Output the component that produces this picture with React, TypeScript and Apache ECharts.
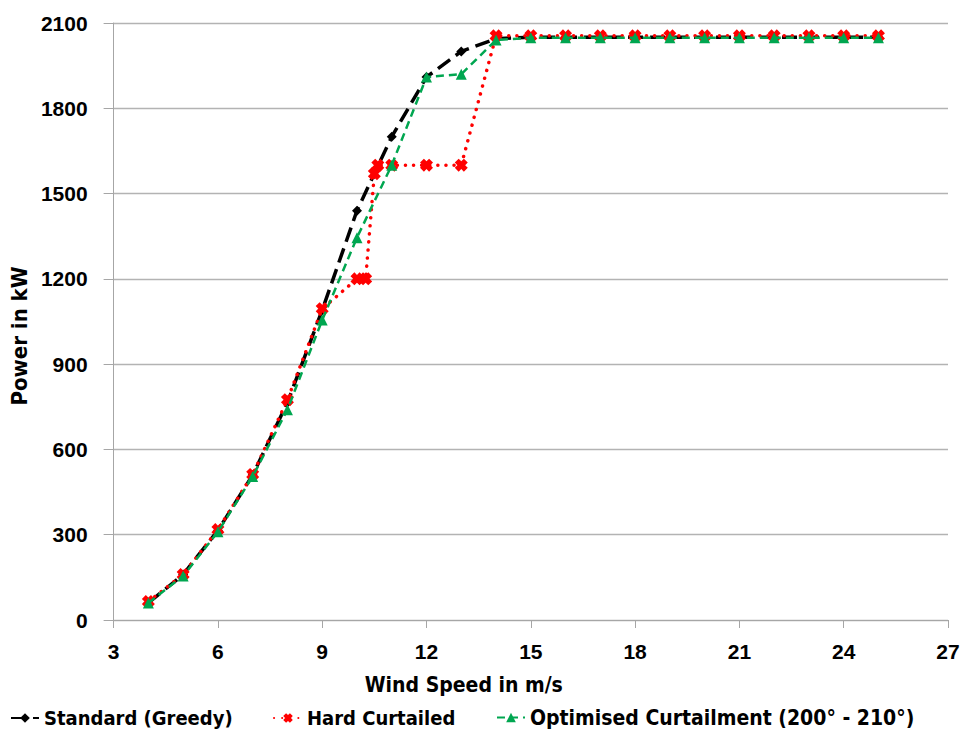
import React, { useEffect, useRef } from "react";
import * as echarts from "echarts";

const stdX = [4, 5, 6, 7, 8, 9, 10, 11, 12, 13, 14, 15, 16, 17, 18, 19, 20, 21, 22, 23, 24, 25];
const stdY = [60, 160, 315, 510, 765, 1090, 1440, 1700, 1910, 2000, 2045, 2050, 2050, 2050, 2050, 2050, 2050, 2050, 2050, 2050, 2050, 2050];

const hardX = [4, 5, 6, 7, 8, 9, 10, 10.25, 10.5, 10.6, 11, 12, 13, 14, 15, 16, 17, 18, 19, 20, 21, 22, 23, 24, 25];
const hardY = [65, 160, 318, 512, 775, 1095, 1200, 1200, 1570, 1600, 1600, 1600, 1600, 2055, 2055, 2055, 2055, 2055, 2055, 2055, 2055, 2055, 2055, 2055, 2055];

const optX = [4, 5, 6, 7, 8, 9, 10, 11, 12, 13, 14, 15, 16, 17, 18, 19, 20, 21, 22, 23, 24, 25];
const optY = [60, 155, 310, 505, 740, 1055, 1345, 1600, 1910, 1920, 2040, 2048, 2048, 2048, 2048, 2048, 2048, 2048, 2048, 2048, 2048, 2048];

const seriesNames = ["Standard (Greedy)", "Hard Curtailed", "Optimised Curtailment (200° - 210°)"];
const xTicks = { min: 3, max: 27, interval: 3 };
const yTicks = { min: 0, max: 2100, interval: 300 };

const crossPath =
  "path://M0,3 L3,0 L5,2 L7,0 L10,3 L8,5 L10,7 L7,10 L5,8 L3,10 L0,7 L2,5 Z";

const pairs = (xs: number[], ys: number[]) => xs.map((x, i) => [x, ys[i]]);

export default function App() {
  const ref = useRef<HTMLDivElement>(null);
  useEffect(() => {
    if (!ref.current) return;
    const chart = echarts.init(ref.current, null, { renderer: "svg" });
    const labelFont = "'Liberation Sans', Arial, sans-serif";
    const titleFont = "'DejaVu Sans Condensed', 'Liberation Sans', sans-serif";
    const legendText = {
      color: "#000",
      fontSize: 20,
      fontFamily: titleFont,
      fontWeight: "bold" as const,
    };
    const legendCommon = {
      top: 708,
      padding: 0,
      itemWidth: 28,
      itemHeight: 12,
      textStyle: legendText,
    };
    chart.setOption({
      animation: false,
      backgroundColor: "#fff",
      grid: { left: 111, right: 17, top: 23, bottom: 111, containLabel: false },
      xAxis: {
        type: "value",
        min: xTicks.min,
        max: xTicks.max,
        interval: xTicks.interval,
        name: "Wind Speed in m/s",
        nameLocation: "middle",
        nameGap: 54,
        nameTextStyle: {
          color: "#000",
          fontSize: 21,
          fontWeight: "bold",
          fontFamily: titleFont,
          padding: [0, 134, 0, 0],
        },
        axisLine: { show: true, lineStyle: { color: "#a6a6a6", width: 1 } },
        axisTick: { show: true, length: 8, lineStyle: { color: "#a6a6a6" } },
        axisLabel: { color: "#000", fontSize: 21, fontWeight: "bold", fontFamily: labelFont, margin: 21 },
        splitLine: { show: false },
      },
      yAxis: {
        type: "value",
        min: yTicks.min,
        max: yTicks.max,
        interval: yTicks.interval,
        name: "Power in kW",
        nameLocation: "middle",
        nameGap: 82,
        nameTextStyle: {
          color: "#000",
          fontSize: 22,
          fontWeight: "bold",
          fontFamily: titleFont,
          padding: [0, 29, 0, 0],
        },
        axisLine: { show: true, lineStyle: { color: "#a6a6a6", width: 1 } },
        axisTick: { show: true, length: 10, lineStyle: { color: "#a6a6a6" } },
        axisLabel: {
          color: "#000",
          fontSize: 21,
          fontWeight: "bold",
          fontFamily: labelFont,
          margin: 26,
          formatter: (v: number) => String(v),
        },
        splitLine: { show: true, lineStyle: { color: "#b3b3b3", width: 1.3 } },
      },
      legend: [
        { ...legendCommon, data: [seriesNames[0]], left: 10 },
        { ...legendCommon, data: [seriesNames[1]], left: 273 },
        {
          ...legendCommon,
          top: 707,
          data: [seriesNames[2]],
          left: 496,
          textStyle: { ...legendText, fontSize: 21 },
        },
      ],
      series: [
        {
          name: seriesNames[0],
          type: "line",
          data: pairs(stdX, stdY),
          symbol: "diamond",
          symbolSize: 10,
          itemStyle: { color: "#000" },
          lineStyle: { color: "#000", width: 3.5, type: [15, 7] },
          z: 2,
        },
        {
          name: seriesNames[1],
          type: "line",
          data: pairs(hardX, hardY),
          symbol: crossPath,
          symbolSize: 13,
          itemStyle: { color: "#ff0000" },
          lineStyle: { color: "#ff0000", width: 3.5, type: [0.1, 8], cap: "round" },
          z: 3,
        },
        {
          name: seriesNames[2],
          type: "line",
          data: pairs(optX, optY),
          symbol: "triangle",
          symbolSize: 11,
          itemStyle: { color: "#00a650" },
          lineStyle: { color: "#00a650", width: 2.5, type: [8, 5] },
          z: 4,
        },
      ],
    });
    return () => chart.dispose();
  }, []);
  return (
    <div
      ref={ref}
      style={{ position: "absolute", left: 0, top: 0, width: 965, height: 731 }}
    />
  );
}
